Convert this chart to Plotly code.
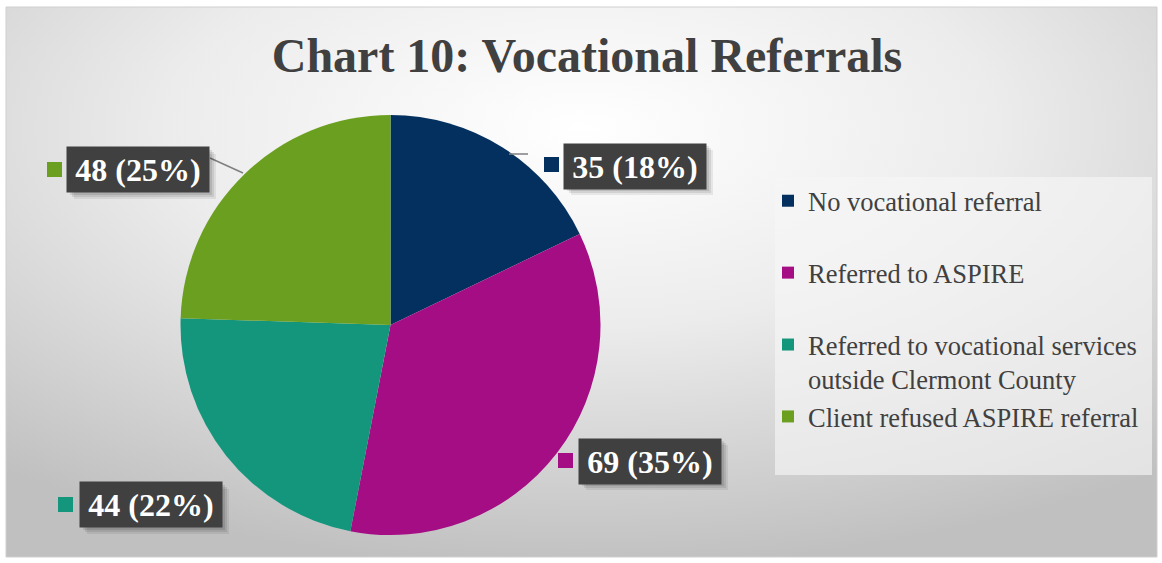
import base64

import plotly.graph_objects as go

categories = [
    "No vocational referral",
    "Referred to ASPIRE",
    "Referred to vocational services outside Clermont County",
    "Client refused ASPIRE referral",
]
legend_labels = [
    "No vocational referral<br>&#160;",
    "Referred to ASPIRE<br>&#160;",
    "Referred to vocational services<br>outside Clermont County",
    "Client refused ASPIRE referral",
]
counts = [35, 69, 44, 48]
percents = [18, 35, 22, 25]
colors = ["#03305e", "#a50d85", "#14967c", "#6b9f1f"]

W, H = 1162, 563
SERIF = "Liberation Serif, Times New Roman, serif"


def px(x):
    return x / W


def py(y):
    return 1 - y / H


# label box centres and key squares (pixel positions, as placed in the original)
label_pos = [(635, 166), (650, 461), (151, 505), (138, 170)]
key_pos = [(544, 157), (558, 453), (58, 497), (47, 162)]

fig = go.Figure()
fig.add_trace(
    go.Pie(
        labels=legend_labels,
        values=counts,
        customdata=categories,
        sort=False,
        direction="clockwise",
        rotation=0,
        marker={"colors": colors, "line": {"width": 0}},
        textinfo="none",
        hovertemplate="%{customdata}<br>%{value} (%{percent})<extra></extra>",
        domain={"x": [px(180), px(601)], "y": [py(535), py(115)]},
        showlegend=True,
    )
)

svg = (
    "<svg xmlns='http://www.w3.org/2000/svg' width='1151' height='550'>"
    "<defs><radialGradient id='g' cx='50%' cy='22%' r='80%'>"
    "<stop offset='0' stop-color='#ffffff'/>"
    "<stop offset='0.45' stop-color='#ececec'/>"
    "<stop offset='1' stop-color='#c0c0c0'/>"
    "</radialGradient></defs>"
    "<rect width='100%' height='100%' fill='url(#g)'/></svg>"
)
bg = "data:image/svg+xml;base64," + base64.b64encode(svg.encode()).decode()

shapes = [
    {
        "type": "rect", "xref": "paper", "yref": "paper",
        "x0": px(6), "x1": px(1157), "y0": py(557), "y1": py(7),
        "line": {"color": "#cfcfcf", "width": 1}, "fillcolor": "rgba(0,0,0,0)",
        "layer": "below",
    },
    # legend panel
    {
        "type": "rect", "xref": "paper", "yref": "paper",
        "x0": px(775), "x1": px(1152), "y0": py(475), "y1": py(177),
        "line": {"width": 0}, "fillcolor": "rgba(246,246,246,0.65)",
        "layer": "below",
    },
    {
        "type": "line", "xref": "paper", "yref": "paper",
        "x0": px(210), "y0": py(158), "x1": px(243), "y1": py(173),
        "line": {"color": "#7f7f7f", "width": 1.5},
    },
    {
        "type": "line", "xref": "paper", "yref": "paper",
        "x0": px(509), "y0": py(154), "x1": px(528), "y1": py(154),
        "line": {"color": "#7f7f7f", "width": 1.5},
    },
]
annotations = []
for v, p, c, (cx, cy), (kx, ky) in zip(counts, percents, colors, label_pos, key_pos):
    # soft drop shadow behind the label box
    for d, a in [(6, 0.07), (4, 0.09), (2, 0.1)]:
        shapes.append({
            "type": "rect", "xref": "paper", "yref": "paper",
            "x0": px(cx - 70 + d), "x1": px(cx + 72 + d),
            "y0": py(cy + 23 + d), "y1": py(cy - 22 + d),
            "line": {"width": 0}, "fillcolor": f"rgba(0,0,0,{a})",
        })
    shapes.append({
        "type": "rect", "xref": "paper", "yref": "paper",
        "x0": px(kx), "x1": px(kx + 15), "y0": py(ky + 15), "y1": py(ky),
        "line": {"width": 0}, "fillcolor": c,
    })
    annotations.append({
        "text": f"<b>{v} ({p}%)</b>",
        "xref": "paper", "yref": "paper",
        "x": px(cx), "y": py(cy), "xanchor": "center", "yanchor": "middle",
        "showarrow": False,
        "font": {"family": SERIF, "size": 32, "color": "white"},
        "bgcolor": "#404040",
        "width": 134, "height": 37, "borderpad": 4,
    })

fig.update_layout(
    width=W,
    height=H,
    margin={"l": 0, "r": 0, "t": 0, "b": 0},
    paper_bgcolor="white",
    plot_bgcolor="rgba(0,0,0,0)",
    title={
        "text": "<b>Chart 10: Vocational Referrals</b>",
        "x": px(587), "y": py(55), "xanchor": "center", "yanchor": "middle",
        "font": {"family": SERIF, "size": 48, "color": "#404040"},
    },
    legend={
        "x": px(768), "y": py(177), "xanchor": "left", "yanchor": "top",
        "bgcolor": "rgba(0,0,0,0)",
        "font": {"family": SERIF, "size": 26.5, "color": "#404040"},
        "valign": "top",
        "traceorder": "normal",
    },
    images=[{
        "source": bg, "xref": "paper", "yref": "paper",
        "x": px(6), "y": py(7), "sizex": 1151 / W, "sizey": 550 / H,
        "xanchor": "left", "yanchor": "top", "sizing": "stretch", "layer": "below",
    }],
    shapes=shapes,
    annotations=annotations,
)

fig.write_html(
    "out.html",
    config={"displayModeBar": False},
    post_script="document.body.style.margin = '0';",
)
